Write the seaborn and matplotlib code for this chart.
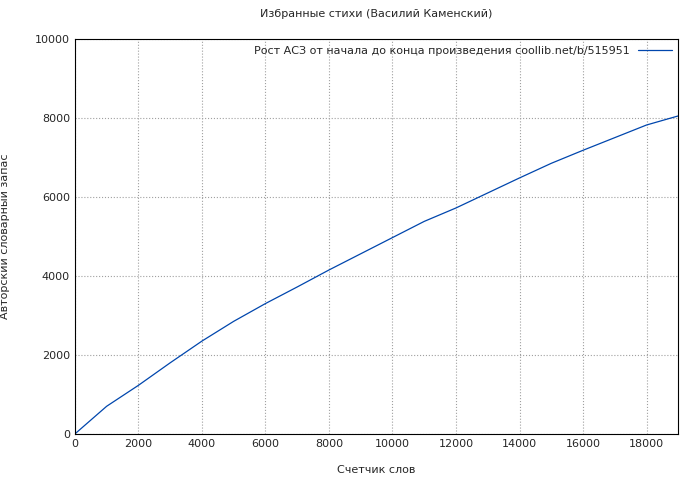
import matplotlib
matplotlib.use("Agg")
import matplotlib.pyplot as plt
import seaborn as sns
import pandas as pd

words = [0, 1000, 2000, 3000, 4000, 5000, 6000, 7000, 8000, 9000, 10000,
         11000, 12000, 13000, 14000, 15000, 16000, 17000, 18000, 19000]
vocab = [0, 700, 1230, 1800, 2350, 2850, 3300, 3720, 4150, 4560, 4970,
         5380, 5720, 6100, 6480, 6850, 7180, 7500, 7820, 8050]

sns.set_style("white")
plt.rcParams['font.family'] = ['DejaVu Sans']
plt.rcParams['font.size'] = 8

df = pd.DataFrame({'x': words, 'y': vocab})
fig = plt.figure(figsize=(7, 4.8), dpi=100)
ax = fig.add_axes([0.107, 0.096, 0.862, 0.823])
sns.lineplot(data=df, x='x', y='y', ax=ax, color='#0046ad', linewidth=0.9,
             label='Рост АСЗ от начала до конца произведения coollib.net/b/515951')
ax.set_xlim(0, 19000)
ax.set_ylim(0, 10000)
ax.set_xticks(range(0, 19000, 2000))
ax.set_yticks(range(0, 10001, 2000))
ax.grid(True, color='#a0a0a0', linestyle=':', linewidth=0.8)
for s in ax.spines.values():
    s.set_color('black')
    s.set_linewidth(0.8)
ax.tick_params(direction='in', length=4, labelsize=8)
ax.set_xlabel('Счетчик слов', fontsize=8, labelpad=12)
ax.set_ylabel('Авторский словарный запас', fontsize=8, labelpad=18)
ax.set_title('Избранные стихи (Василий Каменский)', fontsize=8, pad=16)
ax.legend(loc='upper right', frameon=False, markerfirst=False, fontsize=8,
          handlelength=3, borderaxespad=0.2)
fig.savefig('out.png', dpi=100)
